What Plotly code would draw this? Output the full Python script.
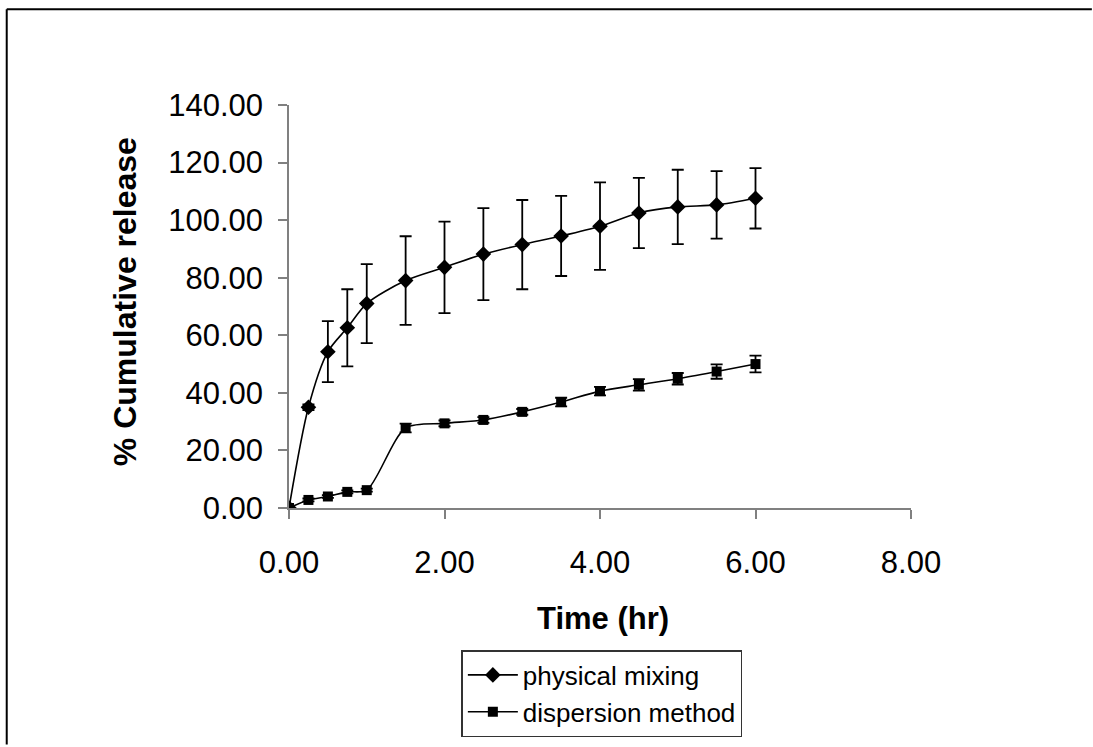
import plotly.graph_objects as go

time_hr = [0, 0.25, 0.5, 0.75, 1, 1.5, 2, 2.5, 3, 3.5, 4, 4.5, 5, 5.5, 6]
physical_mixing = [0.0, 35.0, 54.3, 62.6, 71.0, 79.0, 83.6, 88.2, 91.5, 94.5, 97.9, 102.5, 104.6, 105.3, 107.6]
physical_err = [0.0, 1.0, 10.6, 13.4, 13.7, 15.4, 15.9, 16.0, 15.5, 13.9, 15.2, 12.2, 12.9, 11.7, 10.5]
dispersion = [0.0, 2.8, 4.0, 5.6, 6.2, 27.8, 29.4, 30.6, 33.4, 36.8, 40.6, 42.8, 44.9, 47.4, 50.0]
dispersion_err = [0.0, 0.5, 0.5, 0.5, 0.5, 1.5, 1.0, 1.0, 1.0, 1.5, 1.5, 2.0, 2.0, 2.5, 2.9]

x_ticks = [0, 2, 4, 6, 8]
y_ticks = [0, 20, 40, 60, 80, 100, 120, 140]

FONT = "Liberation Sans, Arial, sans-serif"

fig = go.Figure()
fig.add_trace(go.Scatter(
    x=time_hr, y=physical_mixing, name="physical mixing",
    mode="lines+markers",
    line=dict(color="black", width=1.6, shape="spline", smoothing=0.8),
    marker=dict(symbol="diamond", size=12, color="black"),
    error_y=dict(type="data", array=physical_err, visible=True,
                 color="black", thickness=1.8, width=6),
))
fig.add_trace(go.Scatter(
    x=time_hr, y=dispersion, name="dispersion method",
    mode="lines+markers",
    line=dict(color="black", width=1.6, shape="spline", smoothing=0.8),
    marker=dict(symbol="square", size=10, color="black"),
    error_y=dict(type="data", array=dispersion_err, visible=True,
                 color="black", thickness=1.8, width=6),
))

L, R, T, B = 288.5, 911, 105, 509
W, H = 1093, 747
pw, ph = R - L, B - T

def px_x(p):
    return (p - L) / pw

def px_y(p):
    return (B - p) / ph

fig.update_layout(
    width=W, height=H,
    margin=dict(l=L, r=W - R, t=T, b=H - B, pad=0),
    paper_bgcolor="white", plot_bgcolor="white",
    font=dict(family=FONT, color="black", size=31),
    showlegend=True,
    legend=dict(
        x=px_x(461), y=px_y(693.5), xanchor="left", yanchor="middle",
        bordercolor="#333333", borderwidth=1.5,
        font=dict(size=26, family=FONT, color="black"),
        bgcolor="white", tracegroupgap=0, itemwidth=50,
    ),
    xaxis=dict(
        range=[0, 8], tickvals=x_ticks, tickformat=".2f",
        showline=True, linecolor="#808080", linewidth=1.5,
        ticks="outside", ticklen=9, tickcolor="#808080", tickwidth=1.5,
        showgrid=False, zeroline=False,
        tickfont=dict(size=31, family=FONT),
        ticklabelstandoff=17,
    ),
    yaxis=dict(
        range=[0, 140], tickvals=y_ticks, tickformat=".2f",
        showline=True, linecolor="#808080", linewidth=1.5,
        ticks="outside", ticklen=9, tickcolor="#808080", tickwidth=1.5,
        showgrid=False, zeroline=False,
        tickfont=dict(size=31, family=FONT),
        ticklabelstandoff=9,
    ),
    annotations=[
        dict(text="<b>% Cumulative release</b>", xref="paper", yref="paper",
             x=px_x(124), y=px_y(302), xanchor="center", yanchor="middle",
             textangle=-90, showarrow=False, font=dict(size=32, family=FONT)),
        dict(text="<b>Time (hr)</b>", xref="paper", yref="paper",
             x=px_x(603), y=px_y(620), xanchor="center", yanchor="middle",
             showarrow=False, font=dict(size=31, family=FONT)),
    ],
    shapes=[
        dict(type="line", xref="paper", yref="paper",
             x0=px_x(6), y0=px_y(9), x1=px_x(1092), y1=px_y(9),
             line=dict(color="black", width=2), layer="below"),
        dict(type="line", xref="paper", yref="paper",
             x0=px_x(6), y0=px_y(9), x1=px_x(6), y1=px_y(746),
             line=dict(color="black", width=2), layer="below"),
    ],
)

fig.write_html("out.html")
